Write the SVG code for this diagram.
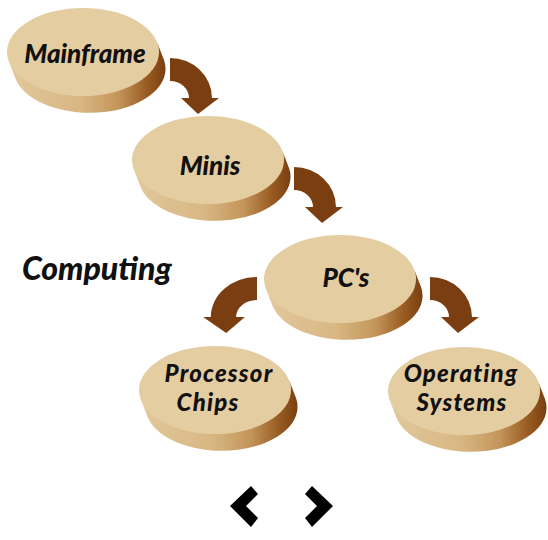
<svg xmlns="http://www.w3.org/2000/svg" width="548" height="540" viewBox="0 0 548 540">
  <defs>
    <!-- side of each disc: light on the left, deep brown on the right -->
    <linearGradient id="sideGrad" x1="0" y1="0" x2="1" y2="0">
      <stop offset="0" stop-color="#E2C89C"/>
      <stop offset="0.45" stop-color="#D8B783"/>
      <stop offset="0.7" stop-color="#C4955A"/>
      <stop offset="0.88" stop-color="#985C22"/>
      <stop offset="1" stop-color="#7A3F10"/>
    </linearGradient>
    <!-- disc: extruded side + top face, centred on the top face -->
    <g id="disc">
      <path class="side" d="M74.1,-9.7 L81.1,8.3 A76,44 0 0 1 -67.1,27.7 L-74.1,9.7 A76,44 0 0 0 74.1,-9.7 Z"/>
      <ellipse class="top" cx="0" cy="0" rx="76" ry="44"/>
    </g>
    <!-- curved arrow: quarter ring with a head pointing down -->
    <path id="curl" d="M0,0 A42,40 0 0 1 42,40 L49,40 L28,56 L11,40 L19,40 A19,17 0 0 0 0,23 Z"/>
  </defs>
  <style>
    .side { fill: url(#sideGrad); }
    .top { fill: #E5CDA2; }
    .arrow { fill: #7B3E10; }
    .label { font-family: Lato, "Open Sans", "DejaVu Sans", sans-serif; font-weight: 900; font-style: italic; font-size: 26px; fill: #111111; text-anchor: middle; }
    .label2 { font-size: 24px; letter-spacing: 1.2px; }
    .title { font-family: Lato, "Open Sans", "DejaVu Sans", sans-serif; font-weight: 900; font-style: italic; font-size: 32px; fill: #111111; }
    .nav { fill: #000000; }
  </style>

  <rect width="548" height="540" fill="#FFFFFF"/>

  <!-- connectors -->
  <g id="connectors">
    <use href="#curl" class="arrow" transform="translate(170,58)"/>
    <use href="#curl" class="arrow" transform="translate(294,167)"/>
    <use href="#curl" class="arrow" transform="translate(257,277) scale(-1.1,1)"/>
    <use href="#curl" class="arrow" transform="translate(430,277)"/>
  </g>

  <g id="mainframe">
    <use href="#disc" transform="translate(83,52)"/>
    <text class="label" x="85" y="63">Mainframe</text>
  </g>

  <g id="minis">
    <use href="#disc" transform="translate(208,160)"/>
    <text class="label" x="210" y="175">Minis</text>
  </g>

  <g id="pcs">
    <use href="#disc" transform="translate(340,279)"/>
    <text class="label" x="346" y="287">PC's</text>
  </g>

  <g id="processor-chips">
    <use href="#disc" transform="translate(215,390)"/>
    <text class="label label2" x="219" y="382">Processor</text>
    <text class="label label2" x="208" y="411">Chips</text>
  </g>

  <g id="operating-systems">
    <use href="#disc" transform="translate(464,391)"/>
    <text class="label label2" x="461" y="382">Operating</text>
    <text class="label label2" x="462" y="411">Systems</text>
  </g>

  <g id="computing">
    <text class="title" x="22" y="280">Computing</text>
  </g>

  <!-- previous / next chevrons -->
  <g id="nav">
    <polygon class="nav" points="251,486 258,494 246,506 258,518 251,527 230,506"/>
    <polygon class="nav" points="312,486 333,506 312,527 305,518 317,506 305,494"/>
  </g>
</svg>
